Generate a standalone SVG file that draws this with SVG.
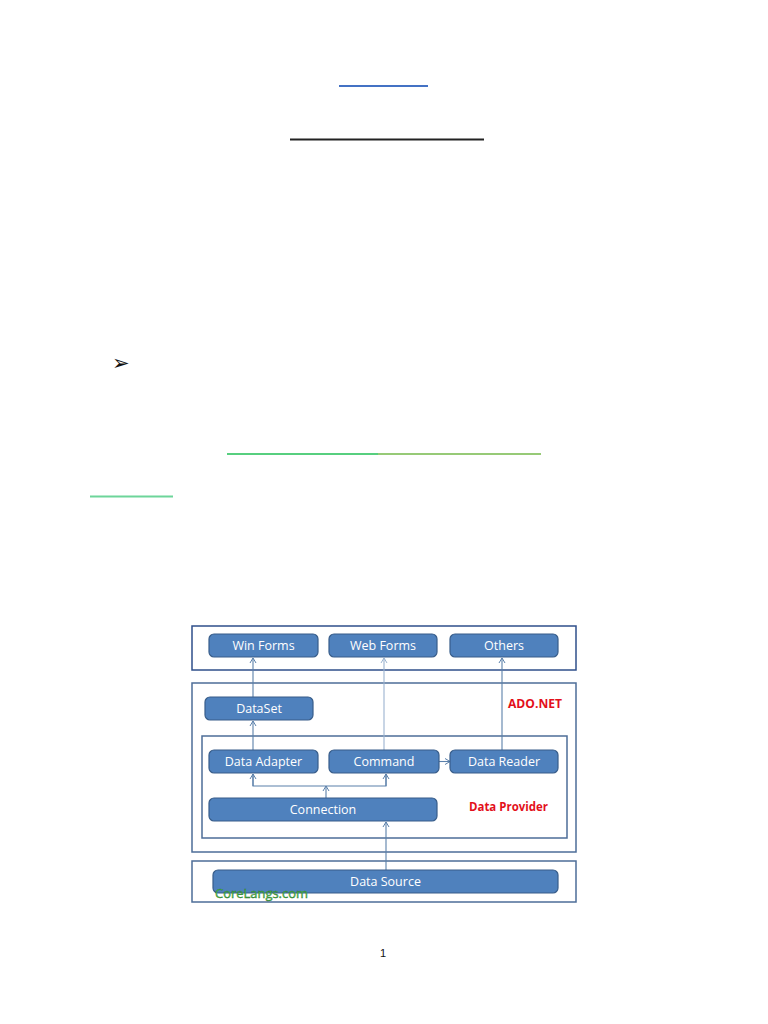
<svg xmlns="http://www.w3.org/2000/svg" width="768" height="1024" viewBox="0 0 768 1024">
<style>
.frame{fill:#fff;stroke:#4d6d98;stroke-width:1.5}
.node rect{fill:#4f81bd;stroke:#385d8a;stroke-width:1.2}
.node text{fill:#fff;font-family:"Open Sans","Liberation Sans",sans-serif;font-size:12.5px;text-anchor:middle}
.conn{fill:none;stroke:#5b80aa;stroke-width:1.1}
.lbl{fill:#e3101a;font-family:"Open Sans","Liberation Sans",sans-serif;font-weight:bold;font-size:12.5px}
</style>
<defs>
<marker id="ah" viewBox="0 0 8 8" refX="7" refY="4" markerWidth="8" markerHeight="8" markerUnits="userSpaceOnUse" orient="auto">
<polyline points="2,1 7,4 2,7" fill="none" stroke="#5b80aa" stroke-width="1"/>
</marker>
<marker id="ahl" viewBox="0 0 8 8" refX="7" refY="4" markerWidth="8" markerHeight="8" markerUnits="userSpaceOnUse" orient="auto">
<polyline points="2,1 7,4 2,7" fill="none" stroke="#9bb3cf" stroke-width="1"/>
</marker>
</defs>
<rect width="768" height="1024" fill="#fff"/>
<g id="page">
<line x1="339" y1="86" x2="428" y2="86" stroke="#4472c4" stroke-width="2"/>
<line x1="290" y1="139.5" x2="484" y2="139.5" stroke="#222" stroke-width="2"/>
<text x="112" y="370" font-family="DejaVu Sans,sans-serif" font-size="21" fill="#111">➢</text>
<line x1="227" y1="454" x2="378" y2="454" stroke="#1fbf55" stroke-width="1.5"/>
<line x1="378" y1="454" x2="541" y2="454" stroke="#74b94a" stroke-width="1.5"/>
<line x1="90" y1="496.5" x2="173" y2="496.5" stroke="#6dd59a" stroke-width="2"/>
<text x="383" y="957" font-family="Liberation Sans,Arial,sans-serif" font-size="11" fill="#111" text-anchor="middle">1</text>
</g>
<g id="frames">
<rect id="ui-frame" class="frame" x="192" y="626" width="384" height="44" style="stroke:#2f4f8a"/>
<rect id="ado-frame" class="frame" x="192" y="683" width="384" height="169"/>
<rect id="provider-frame" class="frame" x="202" y="736" width="365" height="102"/>
<rect id="source-frame" class="frame" x="192" y="861" width="384" height="41"/>
</g>
<g id="connectors">
<line class="conn" x1="253" y1="697" x2="253" y2="658" marker-end="url(#ah)"/>
<line class="conn" x1="253" y1="750" x2="253" y2="721" marker-end="url(#ah)"/>
<line class="conn" x1="384" y1="750" x2="384" y2="658" style="stroke:#9bb3cf" marker-end="url(#ahl)"/>
<line class="conn" x1="502" y1="750" x2="502" y2="658" marker-end="url(#ah)"/>
<line class="conn" x1="439" y1="761.5" x2="450" y2="761.5" marker-end="url(#ah)"/>
<line class="conn" x1="326" y1="798" x2="326" y2="786" marker-end="url(#ah)"/>
<polyline class="conn" points="253,774 253,786 386,786 386,774"/>
<line class="conn" x1="253" y1="786" x2="253" y2="774" marker-end="url(#ah)"/>
<line class="conn" x1="386" y1="786" x2="386" y2="774" marker-end="url(#ah)"/>
<line class="conn" x1="386" y1="870" x2="386" y2="822" marker-end="url(#ah)"/>
</g>
<g id="n-winforms" class="node"><rect x="209" y="634" width="109" height="23" rx="5"/><text x="263.5" y="650">Win Forms</text></g>
<g id="n-webforms" class="node"><rect x="329" y="634" width="108" height="23" rx="5"/><text x="383" y="650">Web Forms</text></g>
<g id="n-others" class="node"><rect x="450" y="634" width="108" height="23" rx="5"/><text x="504" y="650">Others</text></g>
<g id="n-dataset" class="node"><rect x="205" y="697" width="108" height="23" rx="5"/><text x="259" y="713">DataSet</text></g>
<g id="n-adapter" class="node"><rect x="209" y="750" width="109" height="23" rx="5"/><text x="263.5" y="766">Data Adapter</text></g>
<g id="n-command" class="node"><rect x="329" y="750" width="110" height="23" rx="5"/><text x="384" y="766">Command</text></g>
<g id="n-reader" class="node"><rect x="450" y="750" width="108" height="23" rx="5"/><text x="504" y="766">Data Reader</text></g>
<g id="n-connection" class="node"><rect x="209" y="798" width="228" height="23" rx="5"/><text x="323" y="814">Connection</text></g>
<g id="n-source" class="node"><rect x="213" y="870" width="345" height="23" rx="5"/><text x="385.5" y="886">Data Source</text></g>
<g id="labels">
<text class="lbl" x="508" y="708" textLength="54" lengthAdjust="spacingAndGlyphs">ADO.NET</text>
<text class="lbl" x="469" y="811" textLength="79" lengthAdjust="spacingAndGlyphs">Data Provider</text>
<text x="215" y="898" font-family="Open Sans,Liberation Sans,sans-serif" font-size="13" fill="#4cc24c" stroke="#2b6e2b" stroke-width="0.35" textLength="93" lengthAdjust="spacingAndGlyphs">CoreLangs.com</text>
</g>
</svg>
